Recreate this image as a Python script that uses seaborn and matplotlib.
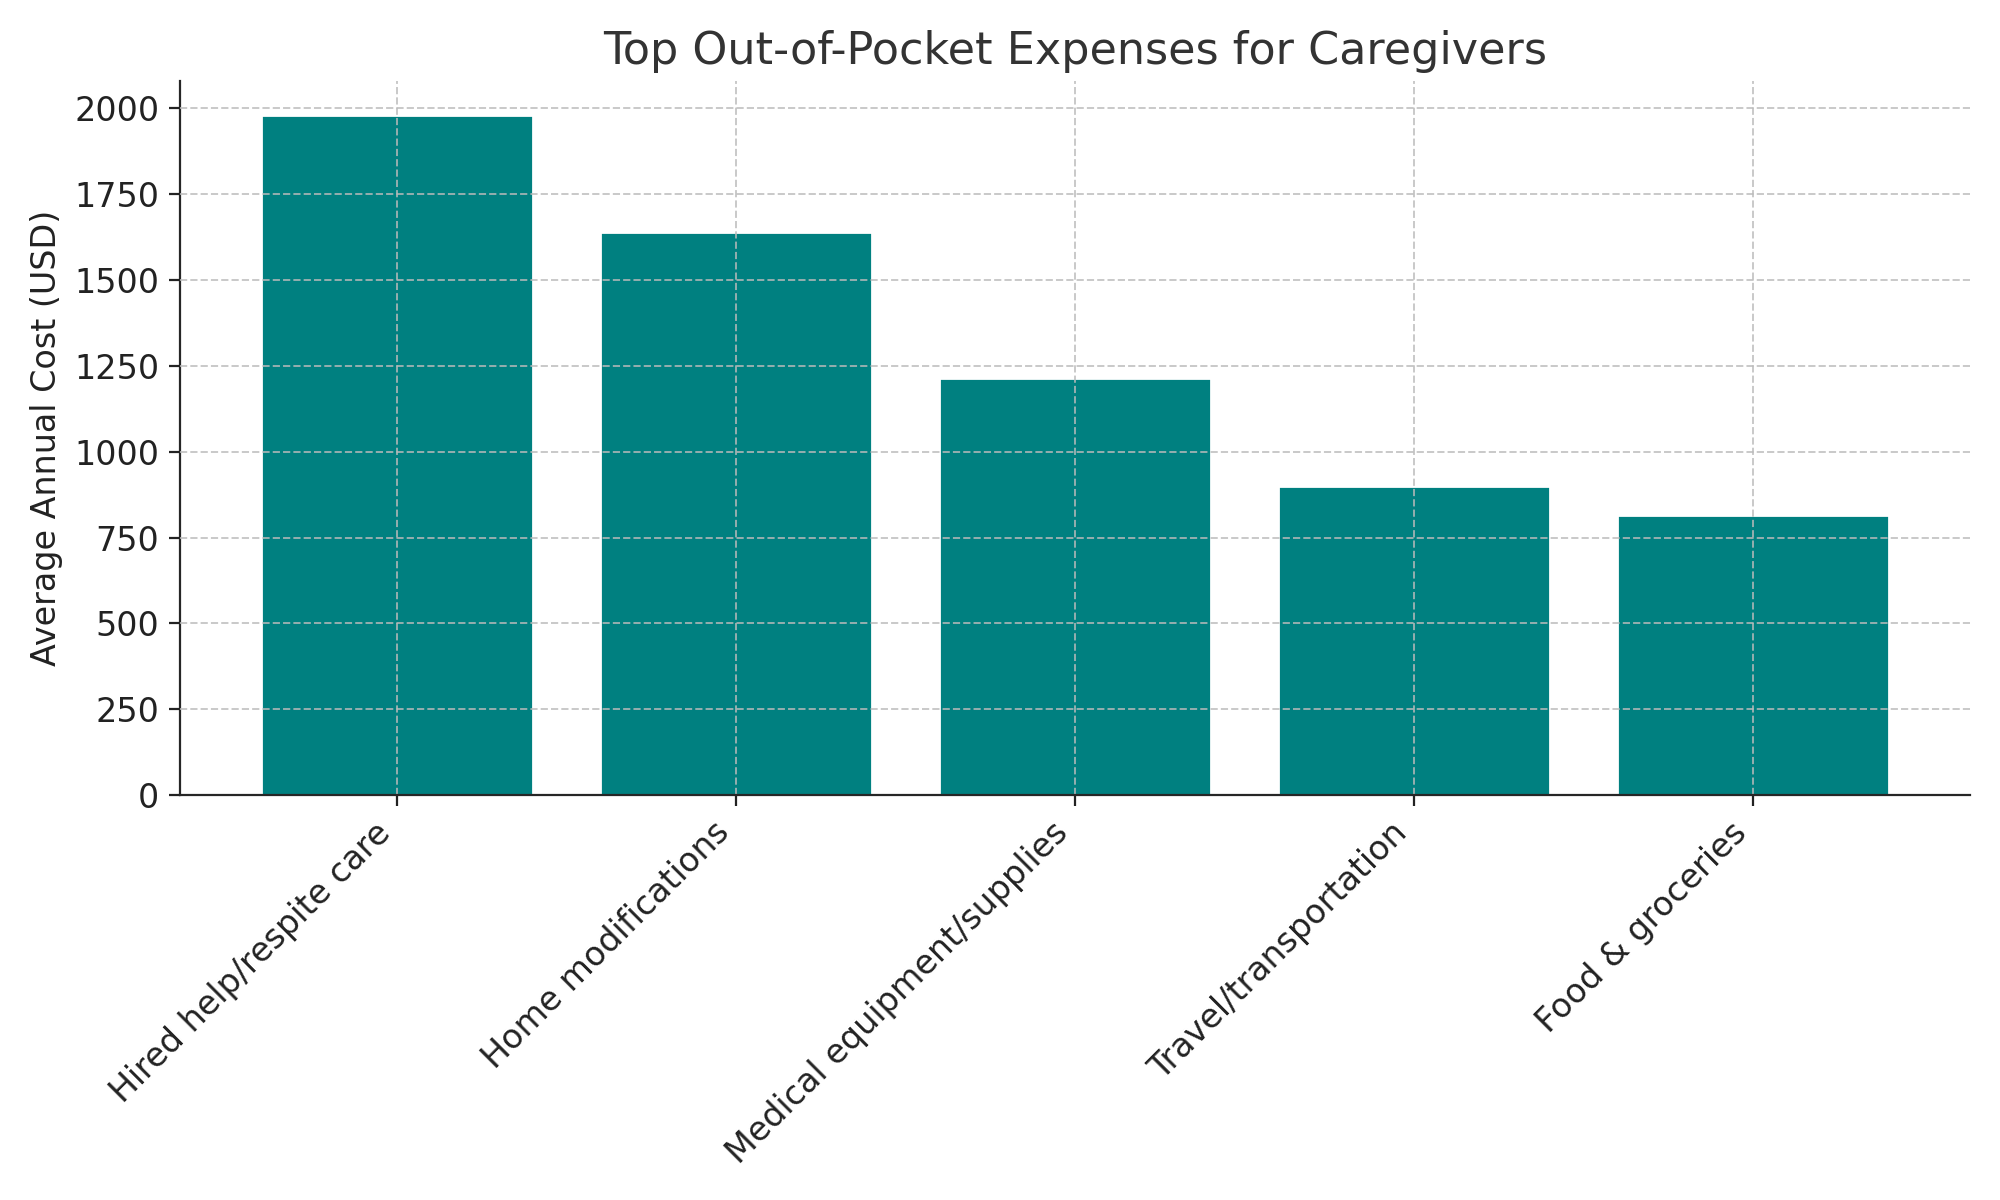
import seaborn
import pandas
import matplotlib
matplotlib.use('Agg')
import matplotlib.pyplot as pyplt

categories = ['Hired help/respite care', 'Home modifications', 'Medical equipment/supplies',
              'Travel/transportation', 'Food & groceries']
costs = [1980, 1640, 1215, 900, 815]

data = pandas.DataFrame({'category': categories, 'cost': costs})

seaborn.set_style('white', {'axes.grid': True, 'grid.linestyle': '--'})
fig, ax = pyplt.subplots(figsize=(10, 6), dpi=200)

seaborn.barplot(data=data, x='category', y='cost', color='#008080', saturation=1,
                width=0.8, ax=ax)

ax.grid(True, linestyle='--', color='#bbbbbb', linewidth=0.7, alpha=0.8)
ax.set_axisbelow(False)
for bar in ax.patches:
    bar.set_zorder(1)
ax.set_title('Top Out-of-Pocket Expenses for Caregivers', fontsize=16, color='#333333')
ax.set_xlabel('')
ax.set_ylabel('Average Annual Cost (USD)', fontsize=12, color='#222222')
pyplt.setp(ax.get_xticklabels(), rotation=45, ha='right', fontsize=12, color='#222222')
pyplt.setp(ax.get_yticklabels(), fontsize=12, color='#222222')
ax.tick_params(axis='both', length=4, color='#222222', bottom=True, left=True)
ax.set_ylim(0, 2080)
ax.set_xlim(-0.64, 4.64)
ax.spines['bottom'].set_zorder(5)
seaborn.despine(ax=ax)

fig.tight_layout()
fig.savefig('out.png')
